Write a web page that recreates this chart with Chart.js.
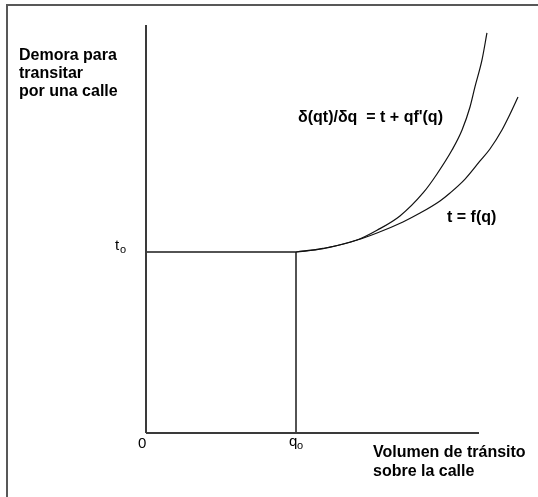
<!DOCTYPE html>
<html lang="es">
<head>
  <meta charset="UTF-8" />
  <title>Demora vs volumen de tránsito</title>
  <script src="https://cdn.jsdelivr.net/npm/chart.js"></script>
  <style>
    html, body { margin: 0; padding: 0; background: #fff; overflow: hidden; }
    .marco {
      position: absolute; left: 6px; top: 4px; width: 700px; height: 700px;
      border-top: 2px solid #585858; border-left: 2px solid #585858;
    }
    #grafico { position: absolute; left: 0; top: 0; }
  </style>
</head>
<body>
  <div class="marco"></div>
  <canvas id="grafico" width="538" height="497"></canvas>

  <script>
    // Unidades: q0 = 1 (volumen), t0 = 1 (demora)
    const q0 = 1;
    const t0 = 1;
    const qFin = 2.22;    // largo del eje de volumen
    const tFin = 2.254;   // largo del eje de demora

    // curva t = f(q)
    const qMedio = [1.0, 1.18, 1.407, 1.54, 1.713, 1.827, 1.96, 2.027, 2.127, 2.227, 2.293, 2.373, 2.427, 2.48];
    const tMedio = [1.0, 1.018, 1.066, 1.105, 1.166, 1.215, 1.282, 1.326, 1.403, 1.503, 1.569, 1.674, 1.762, 1.856];

    // curva δ(qt)/δq = t + qf'(q)
    const qMarginal = [1.0, 1.18, 1.407, 1.54, 1.693, 1.847, 1.94, 2.04, 2.107, 2.16, 2.193, 2.24, 2.273];
    const tMarginal = [1.0, 1.02, 1.066, 1.12, 1.199, 1.326, 1.431, 1.563, 1.674, 1.801, 1.912, 2.061, 2.21];

    const puntos = (xs, ys) => xs.map((x, i) => ({ x: x, y: ys[i] }));

    const linea = (data, color, ancho) => ({
      data: data, borderColor: color, borderWidth: ancho,
      pointRadius: 0, fill: false, clip: false
    });

    const textos = {
      id: 'textos',
      afterDraw(chart) {
        const ctx = chart.ctx;
        ctx.save();
        ctx.fillStyle = '#000';
        ctx.textBaseline = 'alphabetic';
        ctx.textAlign = 'left';

        ctx.font = 'bold 16px "Liberation Sans", Arial, sans-serif';
        ctx.fillText('Demora para', 19, 60);
        ctx.fillText('transitar', 19, 78);
        ctx.fillText('por una calle', 19, 96);
        ctx.fillText('δ(qt)/δq  = t + qf\'(q)', 298, 122);
        ctx.fillText('t = f(q)', 447, 222);
        ctx.fillText('Volumen de tránsito', 373, 457);
        ctx.fillText('sobre la calle', 373, 476);

        const x = chart.scales.x, y = chart.scales.y;
        ctx.font = '15px "Liberation Sans", Arial, sans-serif';
        ctx.fillText('0', x.getPixelForValue(0) - 8, 448);
        ctx.fillText('q', x.getPixelForValue(q0) - 7, 446);
        ctx.fillText('t', 115, y.getPixelForValue(t0) - 2);
        ctx.font = '11px "Liberation Sans", Arial, sans-serif';
        ctx.fillText('o', x.getPixelForValue(q0) + 1, 449);
        ctx.fillText('o', 120, y.getPixelForValue(t0) + 1);
        ctx.restore();
      }
    };

    new Chart(document.getElementById('grafico'), {
      type: 'line',
      data: {
        datasets: [
          linea([{ x: 0, y: 0 }, { x: 0, y: tFin }], '#3a3a3a', 2),
          linea([{ x: 0, y: 0 }, { x: qFin, y: 0 }], '#3a3a3a', 2),
          linea([{ x: 0, y: t0 }, { x: q0, y: t0 }], '#1a1a1a', 1.5),
          linea([{ x: q0, y: 0 }, { x: q0, y: t0 }], '#1a1a1a', 1.5),
          Object.assign(linea(puntos(qMedio, tMedio), '#111', 1.2), { cubicInterpolationMode: 'monotone' }),
          Object.assign(linea(puntos(qMarginal, tMarginal), '#111', 1.2), { cubicInterpolationMode: 'monotone' })
        ]
      },
      options: {
        responsive: false,
        animation: false,
        layout: { padding: { left: 146, right: 8, top: 25, bottom: 64 } },
        plugins: { legend: { display: false }, tooltip: { enabled: false } },
        scales: {
          x: { type: 'linear', min: 0, max: 384 / 150, display: false },
          y: { type: 'linear', min: 0, max: tFin, display: false }
        }
      },
      plugins: [textos]
    });
  </script>
</body>
</html>
